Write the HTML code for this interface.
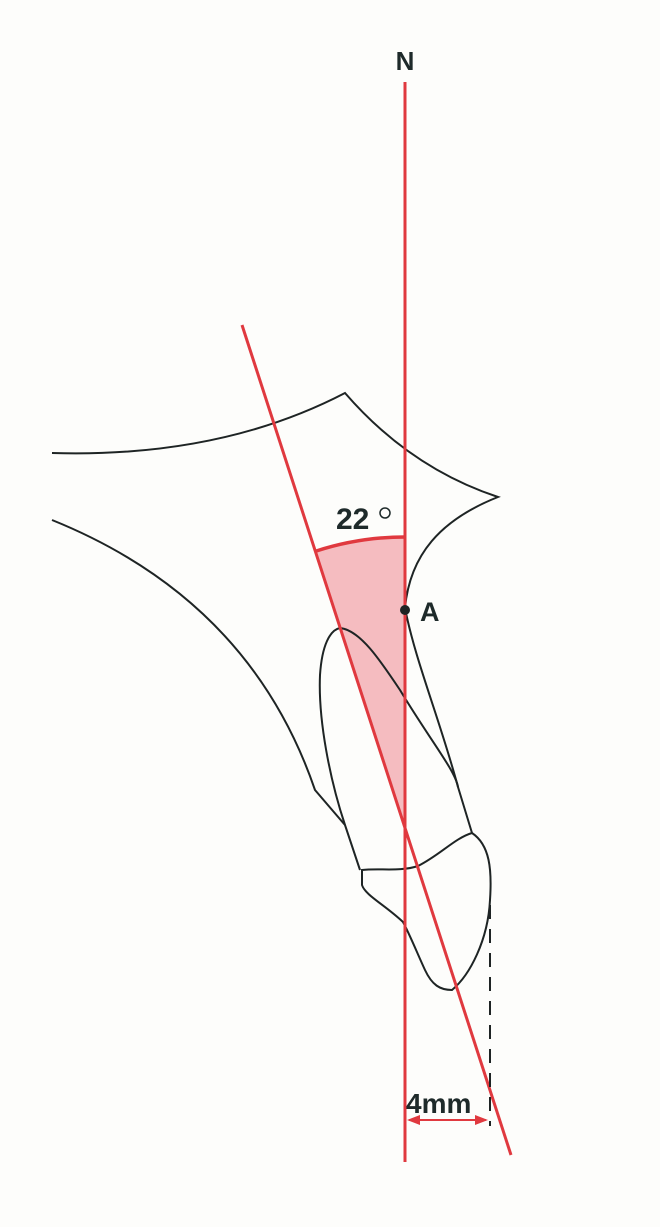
<!DOCTYPE html>
<html><head><meta charset="utf-8"><style>
html,body{margin:0;padding:0;background:#fdfdfb;}
svg{display:block;}
text{font-family:"Liberation Sans",sans-serif;font-weight:bold;fill:#1e2a2a;}
</style></head><body>
<svg width="660" height="1227" viewBox="0 0 660 1227">
<rect width="660" height="1227" fill="#fdfdfb"/>
<path d="M405,825 L405,537 A288,288 0 0 0 316.3,551 Z" fill="#f5bcc0"/>
<g fill="none" stroke="#1e2424" stroke-width="2">
<path d="M52,453 Q220,458 345,393 Q410,468 498,497 C440,520 410,555 405,608 C415,660 440,720 458,787 L472,833"/>
<path d="M52,520 Q250,600 315,790 L345,825"/>
<path d="M360,870 L345,825 C330,780 318,720 320,675 C322,645 330,630 340,628 C360,630 380,660 400,690 C430,740 455,770 458,787"/>
<path d="M472,833 C490,845 492,870 490,900 C488,940 470,975 452,990 C440,990 432,985 425,970 C418,955 410,935 403,922 C385,905 365,895 362,885 L362,870 C380,868 400,872 418,866 C440,855 455,838 472,833"/>
</g>
<line x1="405" y1="82" x2="405" y2="1162" stroke="#e0393f" stroke-width="3"/>
<line x1="242" y1="325" x2="511" y2="1155" stroke="#e0393f" stroke-width="3"/>
<path d="M405,537 A288,288 0 0 0 316.3,551" fill="none" stroke="#e0393f" stroke-width="3.5"/>
<line x1="490" y1="905" x2="490" y2="1126" stroke="#1e2424" stroke-width="2" stroke-dasharray="14,10"/>
<line x1="409" y1="1120" x2="486" y2="1120" stroke="#e0393f" stroke-width="2"/>
<path d="M407,1120 L420,1115 L420,1125 Z" fill="#e0393f"/>
<path d="M488,1120 L475,1115 L475,1125 Z" fill="#e0393f"/>
<circle cx="405" cy="610" r="5" fill="#1e2424"/>
<text x="405" y="70" font-size="26" text-anchor="middle">N</text>
<text x="420" y="621" font-size="27">A</text>
<text x="336" y="529" font-size="30">22</text>
<circle cx="385" cy="513" r="5" fill="none" stroke="#1e2a2a" stroke-width="1.5"/>
<text x="406" y="1113" font-size="28">4mm</text>
</svg>
</body></html>
